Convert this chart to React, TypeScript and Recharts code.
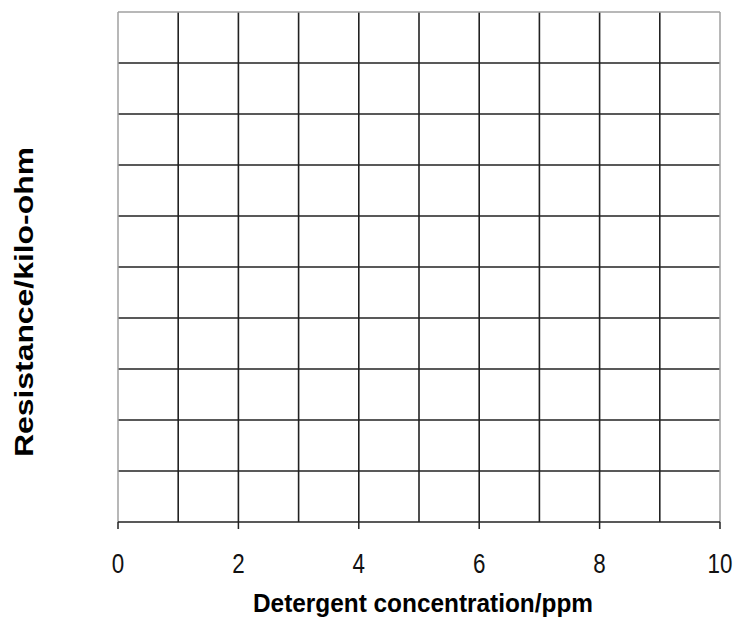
import React from "react";
import { ScatterChart, Scatter, XAxis, YAxis, ReferenceLine, Label } from "recharts";

// axis setup
const xDomain = [0, 10];
const yDomain = [0, 10];
const xTicks = [0, 2, 4, 6, 8, 10];
const xGridLines = [1, 2, 3, 4, 5, 6, 7, 8, 9];
const yGridLines = [1, 2, 3, 4, 5, 6, 7, 8, 9];
const xTitle = "Detergent concentration/ppm";
const yTitle = "Resistance/kilo-ohm";
// the reference is an empty grid, no measurements plotted
const points: { x: number; y: number }[] = [];

const FONT = "'Liberation Sans', Arial, sans-serif";

const XTick = (props: any) => {
  const { x, y, payload } = props;
  return (
    <text
      transform={`translate(${x},${y + 42}) scale(0.8,1)`}
      textAnchor="middle"
      fontSize={28}
      fontFamily={FONT}
      fill="#111"
    >
      {payload.value}
    </text>
  );
};

const XTitle = (props: any) => {
  const { viewBox } = props;
  return (
    <text
      x={viewBox.x + viewBox.width / 2 + 4}
      y={612}
      textAnchor="middle"
      fontSize={25}
      fontWeight="bold"
      fontFamily={FONT}
      textLength={340}
      lengthAdjust="spacingAndGlyphs"
      fill="#000"
    >
      {xTitle}
    </text>
  );
};

const YTitle = () => (
  <text
    x={33}
    y={302}
    transform="rotate(-90, 33, 302)"
    textAnchor="middle"
    fontSize={25}
    fontWeight="bold"
    fontFamily={FONT}
    textLength={310}
    lengthAdjust="spacingAndGlyphs"
    fill="#000"
  >
    {yTitle}
  </text>
);

const App = () => {
  return (
    <div style={{ position: "absolute", left: 0, top: 0, background: "#fff" }}>
      <ScatterChart width={737} height={620} margin={{ top: 12, right: 17, left: 0, bottom: 0 }}>
        <XAxis
          type="number"
          dataKey="x"
          domain={xDomain}
          ticks={xTicks}
          allowDataOverflow
          height={98}
          tickSize={7}
          tickMargin={2}
          axisLine={{ stroke: "#222", strokeWidth: 1.5 }}
          tickLine={{ stroke: "#222", strokeWidth: 1.5 }}
          tick={<XTick />}
        >
          <Label content={<XTitle />} />
        </XAxis>
        <YAxis
          type="number"
          dataKey="y"
          domain={yDomain}
          allowDataOverflow
          width={118}
          tick={false}
          axisLine={false}
          tickLine={false}
        >
          <Label content={<YTitle />} />
        </YAxis>
        {xGridLines.map((v) => (
          <ReferenceLine key={"vx" + v} x={v} stroke="#222" strokeWidth={1.6} />
        ))}
        {yGridLines.map((v) => (
          <ReferenceLine key={"hy" + v} y={v} stroke="#222" strokeWidth={1.6} />
        ))}
        <ReferenceLine x={xDomain[0]} stroke="#a0a0a0" strokeWidth={1.5} />
        <ReferenceLine x={xDomain[1]} stroke="#a0a0a0" strokeWidth={1.5} />
        <ReferenceLine y={yDomain[1]} stroke="#a0a0a0" strokeWidth={1.5} />
        <Scatter data={points} fill="#000" isAnimationActive={false} />
      </ScatterChart>
    </div>
  );
};

export default App;
